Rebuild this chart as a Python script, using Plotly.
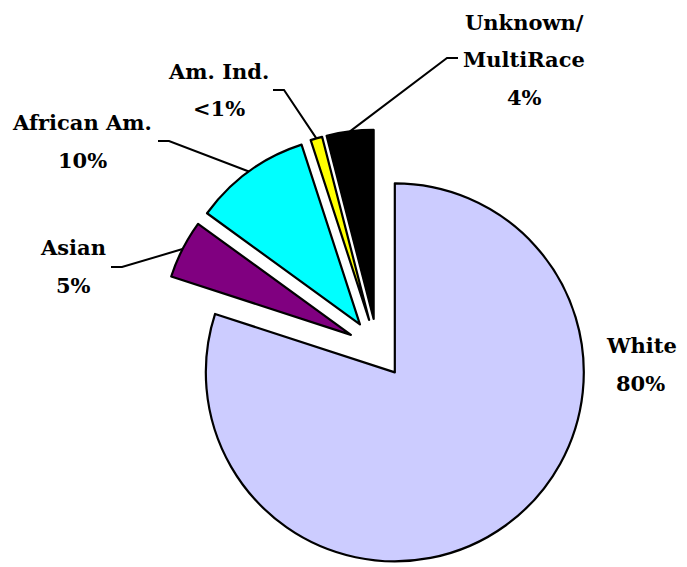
import math
import plotly.graph_objects as go

# ---- data ----
categories = ["White", "Asian", "African Am.", "Am. Ind.", "Unknown/MultiRace"]
values = [80, 5, 10, 1, 4]
pct_labels = ["80%", "5%", "10%", "<1%", "4%"]
name_lines = [["White"], ["Asian"], ["African Am."], ["Am. Ind."], ["Unknown/", "MultiRace"]]
colors = ["#CCCCFF", "#800080", "#00FFFF", "#FFFF00", "#000000"]
pulls = [0.157, 0.157, 0.157, 0.157, 0.157]

# ---- layout ----
PAGE_MARGIN = 8          # default body margin of the html page
W, H = 687 - PAGE_MARGIN, 567 - PAGE_MARGIN
dom_x = [0.219, 0.869]
dom_y = [0.0, 0.7823]
FONT = "DejaVu Serif"
FS = 21

fig = go.Figure(go.Pie(
    labels=categories, values=values, sort=False, direction="clockwise", rotation=0,
    pull=pulls, textinfo="none", hoverinfo="label+percent",
    marker=dict(colors=colors, line=dict(color="#000000", width=2.2)),
    domain=dict(x=dom_x, y=dom_y), showlegend=False,
))

# geometry of the pie as plotly computes it (figure pixels, y down)
box_w = W * (dom_x[1] - dom_x[0])
box_h = H * (dom_y[1] - dom_y[0])
cx = W * (dom_x[0] + dom_x[1]) / 2
cy = H * (1 - dom_y[0]) - box_h / 2
r = min(box_w, box_h) / 2 / (1 + max(pulls))

total = sum(values)
mids = []
acc = 0
for v in values:
    mids.append((acc + v / 2) / total * 2 * math.pi)
    acc += v

def fig_px(x, y):
    return x / W, 1 - y / H

def win_px(x, y):
    # window pixel -> paper coords
    return fig_px(x - PAGE_MARGIN, y - PAGE_MARGIN)

# label placement (window-pixel centres of the text lines) and leader elbows
text_pos = {
    0: [(641, 345), (640, 383)],
    1: [(73, 248), (73, 285)],
    2: [(82, 122), (82, 160)],
    3: [(218, 72), (219, 109)],
    4: [(524, 22), (524, 59), (524, 98)],
}
elbows = {
    1: [(111, 267), (122, 267)],
    2: [(158, 141), (169, 141)],
    3: [(273, 90), (284, 90)],
    4: [(458, 58), (447, 58)],
}

annotations = []
for i in range(len(categories)):
    lines = name_lines[i] + [pct_labels[i]]
    for (tx, ty), t in zip(text_pos[i], lines):
        ax_, ay_ = win_px(tx, ty)
        annotations.append(dict(x=ax_, y=ay_, xref="paper", yref="paper", text="<b>%s</b>" % t,
                                showarrow=False, xanchor="center", yanchor="middle",
                                font=dict(family=FONT, size=FS, color="#000000")))

shapes = []
for i, pts in elbows.items():
    th = mids[i]
    pcx = cx + pulls[i] * r * math.sin(th)
    pcy = cy - pulls[i] * r * math.cos(th)
    axp = pcx + r * math.sin(th)
    ayp = pcy - r * math.cos(th)
    seq = [win_px(*pts[0]), win_px(*pts[1]), fig_px(axp, ayp)]
    path = ""
    for k, (fx, fy) in enumerate(seq):
        path += ("M" if k == 0 else " L") + " %.5f,%.5f" % (fx, fy)
    shapes.append(dict(type="path", path=path, xref="paper", yref="paper",
                       line=dict(color="#000000", width=2)))

fig.update_layout(
    width=W, height=H, margin=dict(l=0, r=0, t=0, b=0),
    paper_bgcolor="white", plot_bgcolor="white",
    annotations=annotations, shapes=shapes,
)

fig.write_html("out.html")
